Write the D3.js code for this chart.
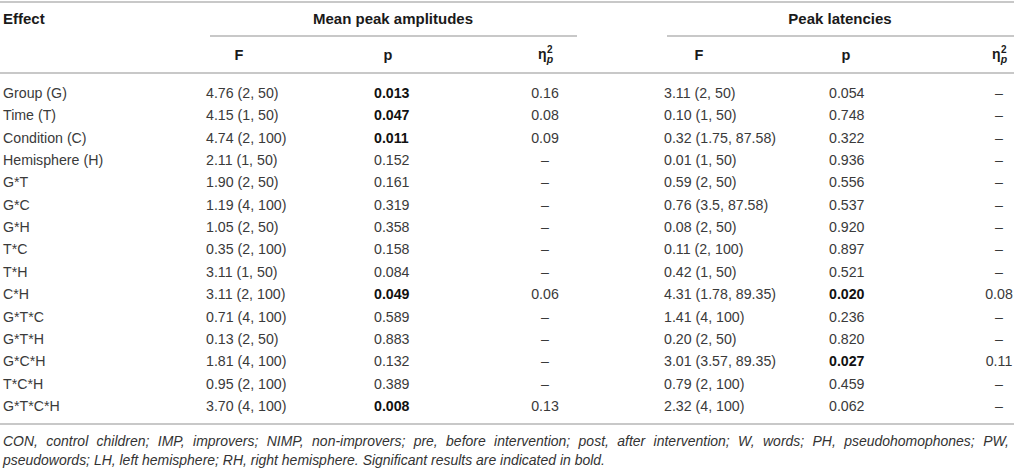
<!doctype html>
<html lang="en">
<head>
  <meta charset="utf-8">
  <title>anova table</title>
  <style>
    body { margin: 0; background: #fff; }
    svg text { font-family: "Liberation Sans", Arial, sans-serif; fill: #3a3a3a; }
    .hd { font-weight: bold; fill: #1a1a1a; }
    .cell { font-size: 14.2px; }
    .sig { font-weight: bold; fill: #111; }
    .rule { stroke: #c8c8c8; stroke-width: 1.6; shape-rendering: crispEdges; }
    .note { font-style: italic; font-size: 14px; fill: #333; }
  </style>
</head>
<body>
  <div class="chart"></div>
  <script src="https://d3js.org/d3.v7.min.js"></script>
  <script>
    'use strict';

    const effects = ['Group (G)', 'Time (T)', 'Condition (C)', 'Hemisphere (H)', 'G*T', 'G*C', 'G*H',
      'T*C', 'T*H', 'C*H', 'G*T*C', 'G*T*H', 'G*C*H', 'T*C*H', 'G*T*C*H'];

    // mean peak amplitudes
    const ampF = ['4.76 (2, 50)', '4.15 (1, 50)', '4.74 (2, 100)', '2.11 (1, 50)', '1.90 (2, 50)',
      '1.19 (4, 100)', '1.05 (2, 50)', '0.35 (2, 100)', '3.11 (1, 50)', '3.11 (2, 100)',
      '0.71 (4, 100)', '0.13 (2, 50)', '1.81 (4, 100)', '0.95 (2, 100)', '3.70 (4, 100)'];
    const ampP = ['0.013', '0.047', '0.011', '0.152', '0.161', '0.319', '0.358', '0.158', '0.084',
      '0.049', '0.589', '0.883', '0.132', '0.389', '0.008'];
    const ampEta = ['0.16', '0.08', '0.09', '–', '–', '–', '–', '–', '–', '0.06', '–', '–', '–', '–', '0.13'];

    // peak latencies
    const latF = ['3.11 (2, 50)', '0.10 (1, 50)', '0.32 (1.75, 87.58)', '0.01 (1, 50)', '0.59 (2, 50)',
      '0.76 (3.5, 87.58)', '0.08 (2, 50)', '0.11 (2, 100)', '0.42 (1, 50)', '4.31 (1.78, 89.35)',
      '1.41 (4, 100)', '0.20 (2, 50)', '3.01 (3.57, 89.35)', '0.79 (2, 100)', '2.32 (4, 100)'];
    const latP = ['0.054', '0.748', '0.322', '0.936', '0.556', '0.537', '0.920', '0.897', '0.521',
      '0.020', '0.236', '0.820', '0.027', '0.459', '0.062'];
    const latEta = ['–', '–', '–', '–', '–', '–', '–', '–', '–', '0.08', '–', '–', '0.11', '–', '–'];

    const groups = ['Mean peak amplitudes', 'Peak latencies'];
    const noteLines = [
      'CON, control children; IMP, improvers; NIMP, non-improvers; pre, before intervention; post, after intervention; W, words; PH, pseudohomophones; PW,',
      'pseudowords; LH, left hemisphere; RH, right hemisphere. Significant results are indicated in bold.'
    ];

    const width = 1014;
    const height = 472;

    // layout of the two column groups
    const cols = [
      {name: groups[0], span: [210, 577], title: 393, fHead: 239, fX: 206, pHead: 388, pX: 374, eta: 545,
        F: ampF, P: ampP, E: ampEta},
      {name: groups[1], span: [667, 1014], title: 840, fHead: 699, fX: 664, pHead: 846, pX: 829, eta: 999,
        F: latF, P: latP, E: latEta}
    ];

    const yScale = d3.scalePoint()
      .domain(effects)
      .range([93, 406]);

    const svg = d3.select('.chart').append('svg')
      .attr('width', width)
      .attr('height', height);

    // rules
    const rule = (x1, x2, y) => svg.append('line').attr('class', 'rule')
      .attr('x1', x1).attr('x2', x2).attr('y1', y).attr('y2', y);
    rule(0, width, 2);
    cols.forEach(c => rule(c.span[0], c.span[1], 36));
    rule(0, width, 73);
    rule(0, width, 424);

    // header
    svg.append('text').attr('class', 'hd').attr('x', 3).attr('y', 19).attr('dy', '0.35em')
      .style('font-size', '15px').text('Effect');

    cols.forEach(c => {
      svg.append('text').attr('class', 'hd').attr('x', c.title).attr('y', 19).attr('dy', '0.35em')
        .attr('text-anchor', 'middle').style('font-size', '15px').text(c.name);
      svg.append('text').attr('class', 'hd').attr('x', c.fHead).attr('y', 55).attr('dy', '0.35em')
        .attr('text-anchor', 'middle').style('font-size', '14.5px').text('F');
      svg.append('text').attr('class', 'hd').attr('x', c.pHead).attr('y', 55).attr('dy', '0.35em')
        .attr('text-anchor', 'middle').style('font-size', '14.5px').text('p');
      // eta squared, partial
      const eta = svg.append('text').attr('class', 'hd')
        .attr('x', c.eta - 7).attr('y', 59)
        .style('font-size', '14px');
      eta.append('tspan').text('η');
      eta.append('tspan').attr('dx', 0.5).attr('dy', -6.5).style('font-size', '10px').text('2');
      eta.append('tspan').attr('dx', -6).attr('dy', 10).style('font-size', '10.5px')
        .style('font-style', 'italic').text('p');
    });

    // body
    const rows = svg.append('g').selectAll('g.row')
      .data(effects)
      .join('g')
      .attr('class', 'row')
      .attr('transform', d => `translate(0,${yScale(d)})`);

    rows.append('text').attr('class', 'cell').attr('x', 3).attr('dy', '0.35em').text(d => d);

    cols.forEach(c => {
      rows.append('text').attr('class', 'cell').attr('x', c.fX).attr('dy', '0.35em')
        .text((d, i) => c.F[i]);
      rows.append('text').attr('class', (d, i) => +c.P[i] < 0.05 ? 'cell sig' : 'cell')
        .attr('x', c.pX).attr('dy', '0.35em')
        .text((d, i) => c.P[i]);
      rows.append('text').attr('class', 'cell').attr('x', c.eta).attr('dy', '0.35em')
        .attr('text-anchor', 'middle')
        .text((d, i) => c.E[i]);
    });

    // footnote: condensed face, first line justified to the full width
    const noteLeft = 3, noteRight = 1009, lastLineEnd = 605;
    const probe = svg.append('text').attr('class', 'note').text(noteLines[1]);
    const squeeze = (lastLineEnd - noteLeft) / probe.node().getComputedTextLength();
    probe.remove();

    const words = noteLines[0].split(' ');
    const wordW = words.map(w => {
      const t = svg.append('text').attr('class', 'note').text(w);
      const len = t.node().getComputedTextLength() * squeeze;
      t.remove();
      return len;
    });
    const gap = (noteRight - noteLeft - d3.sum(wordW)) / (words.length - 1);
    let cursor = noteLeft;
    const wordX = wordW.map(w => { const x = cursor; cursor += w + gap; return x; });

    const line1 = svg.append('text').attr('class', 'note').attr('y', 441).attr('dy', '0.35em');
    line1.selectAll('tspan')
      .data(words)
      .join('tspan')
      .attr('x', (d, i) => wordX[i])
      .attr('textLength', (d, i) => wordW[i])
      .attr('lengthAdjust', 'spacingAndGlyphs')
      .text(d => d);

    svg.append('text').attr('class', 'note')
      .attr('x', noteLeft).attr('y', 460.5).attr('dy', '0.35em')
      .attr('textLength', lastLineEnd - noteLeft)
      .attr('lengthAdjust', 'spacingAndGlyphs')
      .text(noteLines[1]);
  </script>
</body>
</html>
